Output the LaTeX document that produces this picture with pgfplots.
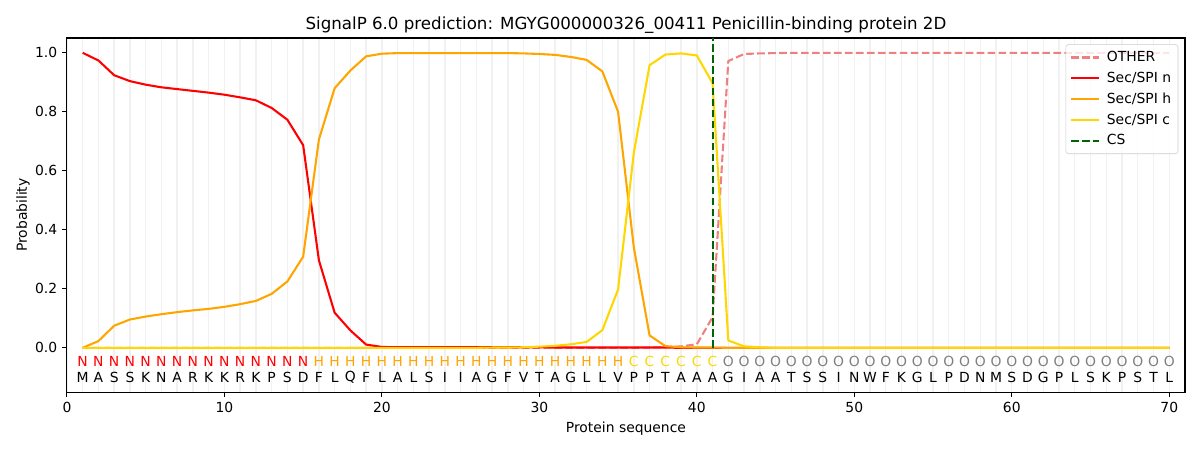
\documentclass[border=0pt]{standalone}
\usepackage{fontspec}
\setmainfont{DejaVu Sans}
\usepackage{pgfplots}
\pgfplotsset{compat=1.18}
\usepackage{pgfplotstable}
\definecolor{cother}{HTML}{F08080}
\definecolor{cn}{HTML}{FF0000}
\definecolor{ch}{HTML}{FFA500}
\definecolor{cc}{HTML}{FFD700}
\definecolor{ccs}{HTML}{006400}
\definecolor{cgrid}{HTML}{F1F1F1}
\definecolor{cO}{HTML}{808080}

\pgfplotstableread{
x other n h c
1 0.000 1.000 0.000 0.000
2 0.000 0.974 0.023 0.000
3 0.000 0.924 0.075 0.000
4 0.000 0.904 0.096 0.000
5 0.000 0.892 0.106 0.000
6 0.000 0.883 0.114 0.000
7 0.000 0.877 0.121 0.000
8 0.000 0.871 0.127 0.000
9 0.000 0.865 0.132 0.000
10 0.000 0.858 0.139 0.000
11 0.000 0.849 0.148 0.000
12 0.000 0.839 0.159 0.000
13 0.000 0.813 0.183 0.000
14 0.000 0.773 0.225 0.000
15 0.000 0.687 0.309 0.000
16 0.000 0.297 0.706 0.000
17 0.000 0.119 0.880 0.000
18 0.000 0.059 0.940 0.000
19 0.000 0.011 0.988 0.000
20 0.000 0.003 0.997 0.000
21 0.000 0.002 0.999 0.000
22 0.000 0.002 0.999 0.000
23 0.000 0.002 0.999 0.000
24 0.000 0.002 0.999 0.000
25 0.000 0.002 0.999 0.000
26 0.000 0.002 0.999 0.000
27 0.000 0.002 0.999 0.001
28 0.000 0.002 0.999 0.001
29 0.000 0.002 0.998 0.002
30 0.000 0.002 0.996 0.004
31 0.000 0.001 0.993 0.007
32 0.000 0.001 0.986 0.012
33 0.000 0.001 0.976 0.020
34 0.000 0.001 0.937 0.060
35 0.000 0.001 0.800 0.198
36 0.000 0.001 0.340 0.662
37 0.001 0.001 0.042 0.958
38 0.002 0.001 0.006 0.994
39 0.005 0.000 0.002 0.998
40 0.012 0.000 0.001 0.991
41 0.104 0.000 0.001 0.897
42 0.972 0.000 0.000 0.025
43 0.996 0.000 0.000 0.005
44 0.998 0.000 0.000 0.002
45 0.999 0.000 0.000 0.000
46 1.000 0.000 0.000 0.000
47 1.000 0.000 0.000 0.000
48 1.000 0.000 0.000 0.000
49 1.000 0.000 0.000 0.000
50 1.000 0.000 0.000 0.000
51 1.000 0.000 0.000 0.000
52 1.000 0.000 0.000 0.000
53 1.000 0.000 0.000 0.000
54 1.000 0.000 0.000 0.000
55 1.000 0.000 0.000 0.000
56 1.000 0.000 0.000 0.000
57 1.000 0.000 0.000 0.000
58 1.000 0.000 0.000 0.000
59 1.000 0.000 0.000 0.000
60 1.000 0.000 0.000 0.000
61 1.000 0.000 0.000 0.000
62 1.000 0.000 0.000 0.000
63 1.000 0.000 0.000 0.000
64 1.000 0.000 0.000 0.000
65 1.000 0.000 0.000 0.000
66 1.000 0.000 0.000 0.000
67 1.000 0.000 0.000 0.000
68 1.000 0.000 0.000 0.000
69 1.000 0.000 0.000 0.000
70 1.000 0.000 0.000 0.000
}\probs

\pgfplotstableread{
x y aa
1 -0.10 M
2 -0.10 A
3 -0.10 S
4 -0.10 S
5 -0.10 K
6 -0.10 N
7 -0.10 A
8 -0.10 R
9 -0.10 K
10 -0.10 K
11 -0.10 R
12 -0.10 K
13 -0.10 P
14 -0.10 S
15 -0.10 D
16 -0.10 F
17 -0.10 L
18 -0.10 Q
19 -0.10 F
20 -0.10 L
21 -0.10 A
22 -0.10 L
23 -0.10 S
24 -0.10 I
25 -0.10 I
26 -0.10 A
27 -0.10 G
28 -0.10 F
29 -0.10 V
30 -0.10 T
31 -0.10 A
32 -0.10 G
33 -0.10 L
34 -0.10 L
35 -0.10 V
36 -0.10 P
37 -0.10 P
38 -0.10 T
39 -0.10 A
40 -0.10 A
41 -0.10 A
42 -0.10 G
43 -0.10 I
44 -0.10 A
45 -0.10 A
46 -0.10 T
47 -0.10 S
48 -0.10 S
49 -0.10 I
50 -0.10 N
51 -0.10 W
52 -0.10 F
53 -0.10 K
54 -0.10 G
55 -0.10 L
56 -0.10 P
57 -0.10 D
58 -0.10 N
59 -0.10 M
60 -0.10 S
61 -0.10 D
62 -0.10 G
63 -0.10 P
64 -0.10 L
65 -0.10 S
66 -0.10 K
67 -0.10 P
68 -0.10 S
69 -0.10 T
70 -0.10 L
}\seq

\begin{document}
\begin{tikzpicture}
\begin{axis}[
  at={(0,0)}, anchor=south west,
  scale only axis,
  width=805pt, height=254.9pt,
  xmin=0, xmax=71, ymin=-0.15, ymax=1.05,
  xtick={0,10,...,70},
  ytick={0,0.2,...,1.0},
  yticklabel style={/pgf/number format/.cd, fixed, fixed zerofill, precision=1},
  /pgf/number format/assume math mode=true,
  minor xtick={1,...,70},
  xminorgrids, xmajorgrids,
  minor grid style={cgrid, line width=1pt},
  major grid style={cgrid, line width=1pt},
  minor tick length=0pt,
  tick align=outside,
  major tick length=3.5pt,
  xtick pos=bottom, ytick pos=left,
  tick style={black, line width=0.8pt},
  axis line style={line width=0.8pt},
  ticklabel style={font=\fontsize{10}{12}\selectfont},
  label style={font=\fontsize{10}{12}\selectfont},
  xlabel={Protein sequence},
  ylabel={Probability},
  ylabel style={xshift=0pt, yshift=-3pt},
  title={SignalP 6.0 prediction: MGYG000000326\_00411 Penicillin-binding protein 2D},
  title style={font=\fontsize{12}{14}\selectfont, yshift=-6.3pt},
  legend cell align=left,
  legend style={at={(0.994,0.983)}, anchor=north east, font=\fontsize{10}{12}\selectfont,
    draw=black!20, rounded corners=2pt, fill=white, fill opacity=0.8, text opacity=1,
    inner xsep=3pt, inner ysep=3pt, row sep=2pt},
  legend image code/.code={\draw[#1] (0pt,0pt) -- (20pt,0pt); \path (23pt,0pt);},
  clip=false,
]
\addplot[cother, line width=1.5pt, dash pattern=on 5.5pt off 2.4pt] table[x=x, y=other] {\probs};
\addlegendentry{OTHER}
\addplot[cn, line width=1.5pt] table[x=x, y=n] {\probs};
\addlegendentry{Sec/SPI n}
\addplot[ch, line width=1.5pt] table[x=x, y=h] {\probs};
\addlegendentry{Sec/SPI h}
\addplot[cc, line width=1.5pt] table[x=x, y=c] {\probs};
\addlegendentry{Sec/SPI c}
\addplot[ccs, line width=1.5pt, dash pattern=on 5.5pt off 2.4pt] coordinates {(41,0) (41,1.05)};
\addlegendentry{CS}

\addplot[draw=none, mark=none, nodes near coords, point meta=explicit symbolic,
  nodes near coords style={anchor=center, text=black, font=\fontsize{10}{12}\selectfont}, forget plot]
  table[x=x, y=y, meta=aa] {\seq};
\addplot[draw=none, mark=none, nodes near coords, point meta=explicit symbolic,
  nodes near coords style={anchor=center, text=cn, font=\fontsize{10}{12}\selectfont}, forget plot]
  coordinates {(1,-0.047)[N] (2,-0.047)[N] (3,-0.047)[N] (4,-0.047)[N] (5,-0.047)[N] (6,-0.047)[N] (7,-0.047)[N] (8,-0.047)[N] (9,-0.047)[N] (10,-0.047)[N] (11,-0.047)[N] (12,-0.047)[N] (13,-0.047)[N] (14,-0.047)[N] (15,-0.047)[N]};
\addplot[draw=none, mark=none, nodes near coords, point meta=explicit symbolic,
  nodes near coords style={anchor=center, text=ch, font=\fontsize{10}{12}\selectfont}, forget plot]
  coordinates {(16,-0.047)[H] (17,-0.047)[H] (18,-0.047)[H] (19,-0.047)[H] (20,-0.047)[H] (21,-0.047)[H] (22,-0.047)[H] (23,-0.047)[H] (24,-0.047)[H] (25,-0.047)[H] (26,-0.047)[H] (27,-0.047)[H] (28,-0.047)[H] (29,-0.047)[H] (30,-0.047)[H] (31,-0.047)[H] (32,-0.047)[H] (33,-0.047)[H] (34,-0.047)[H] (35,-0.047)[H]};
\addplot[draw=none, mark=none, nodes near coords, point meta=explicit symbolic,
  nodes near coords style={anchor=center, text=cc, font=\fontsize{10}{12}\selectfont}, forget plot]
  coordinates {(36,-0.047)[C] (37,-0.047)[C] (38,-0.047)[C] (39,-0.047)[C] (40,-0.047)[C] (41,-0.047)[C]};
\addplot[draw=none, mark=none, nodes near coords, point meta=explicit symbolic,
  nodes near coords style={anchor=center, text=cO, font=\fontsize{10}{12}\selectfont}, forget plot]
  coordinates {(42,-0.047)[O] (43,-0.047)[O] (44,-0.047)[O] (45,-0.047)[O] (46,-0.047)[O] (47,-0.047)[O] (48,-0.047)[O] (49,-0.047)[O] (50,-0.047)[O] (51,-0.047)[O] (52,-0.047)[O] (53,-0.047)[O] (54,-0.047)[O] (55,-0.047)[O] (56,-0.047)[O] (57,-0.047)[O] (58,-0.047)[O] (59,-0.047)[O] (60,-0.047)[O] (61,-0.047)[O] (62,-0.047)[O] (63,-0.047)[O] (64,-0.047)[O] (65,-0.047)[O] (66,-0.047)[O] (67,-0.047)[O] (68,-0.047)[O] (69,-0.047)[O] (70,-0.047)[O]};
\end{axis}
\pgfresetboundingbox
\path[use as bounding box] (-48.2pt,-41.8pt) rectangle (815.8pt,282.3pt);
\end{tikzpicture}
\end{document}
